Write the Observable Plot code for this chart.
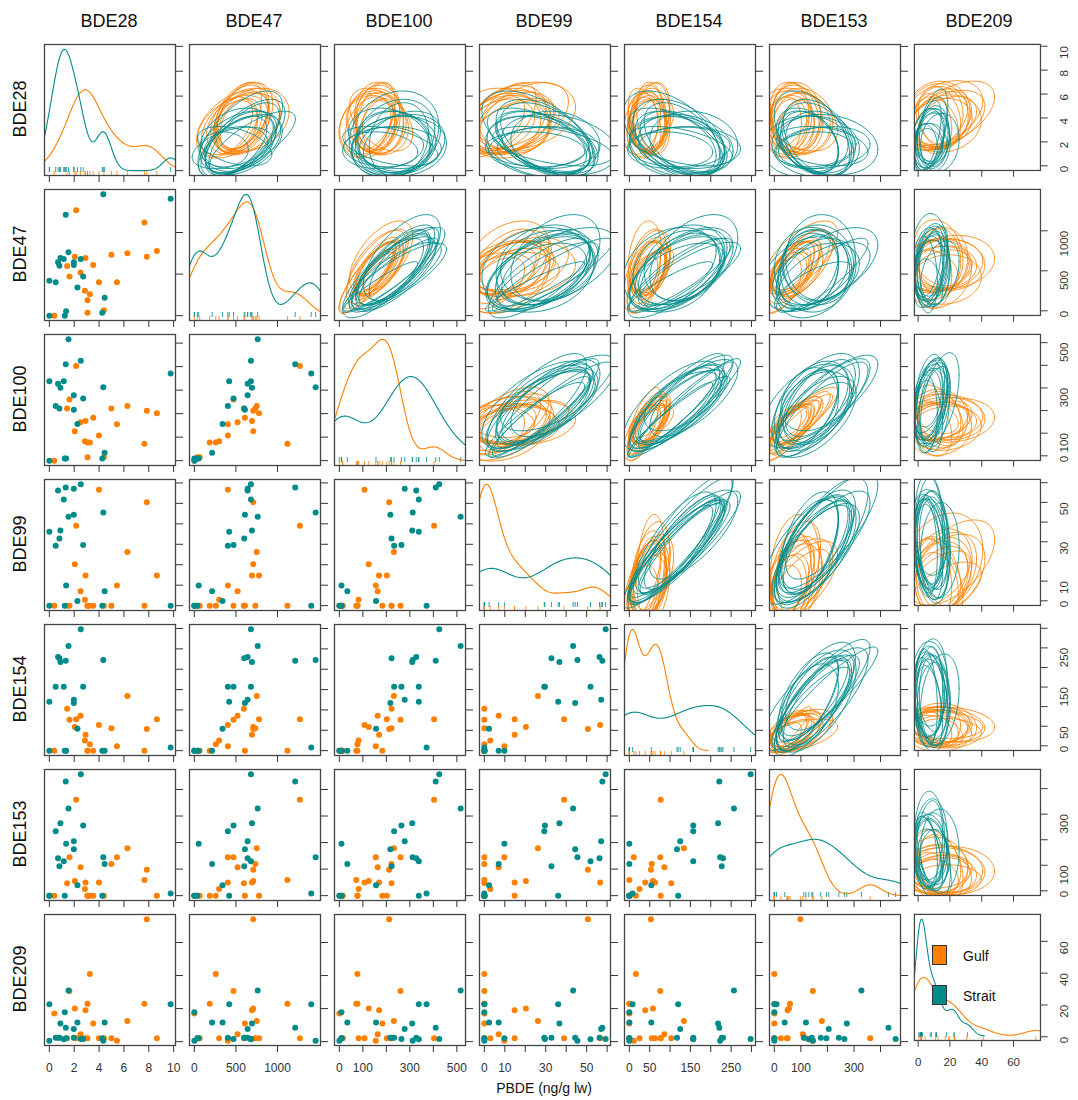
<!DOCTYPE html>
<html><head><meta charset="utf-8">
<script src="https://cdn.jsdelivr.net/npm/d3@7"></script>
<script src="https://cdn.jsdelivr.net/npm/@observablehq/plot@0.6"></script>
<style>
body{margin:0;background:#fff;font-family:"Liberation Sans",Arial,sans-serif;}
#wrap{position:relative;width:1078px;height:1100px;overflow:hidden;}
.cell{position:absolute;}
.lab{position:absolute;font-size:18px;color:#111;white-space:nowrap;line-height:18px;}
.leg{position:absolute;font-size:14px;color:#111;white-space:nowrap;line-height:14px;}
.sw{position:absolute;width:13px;height:18px;border:1px solid #333;}
</style></head><body><div id="wrap"></div>
<script>
const variables = ["BDE28","BDE47","BDE100","BDE99","BDE154","BDE153","BDE209"];
const groupNames = ["Gulf","Strait"];
const groupColors = ["#FF7F00","#008B8B"];

const gulfBDE28  = [0.40,1.43,1.62,2.05,2.16,2.51,2.86,2.91,3.07,3.07,3.26,3.53,3.99,4.39,4.99,5.44,6.28,7.65,7.84,8.65];
const gulfBDE47  = [0,596,471,709,1269,520,298,693,185,36,258,608,403,64,733,403,750,1120,709,778];
const gulfBDE100 = [0,222,260,125,403,163,82,169,77,14,77,183,107,14,222,155,232,72,212,202];
const gulfBDE99  = [0,0,0,20.3,39.0,7.0,2.9,14.8,0,0,0,0,56.6,0,0,9.8,26.2,0,50.6,14.8];
const gulfBDE154 = [0,103,76,58,77,86,25,39,0,0,16,0,63,0,55,11,134,0,53,77];
const gulfBDE153 = [0,47,145,55,361,107,25,50,0,0,0,0,50,0,119,145,179,59,98,0];
const gulfBDE209 = [17,2,30.6,20,2,4.4,2,19,23,2,41,11,2,2,2,0.6,12.5,23,74,2];

const straitBDE28  = [0,0,0.51,0.70,0.81,0.89,1.16,1.24,1.32,1.35,1.54,1.97,1.97,2.26,2.53,2.72,4.26,4.34,4.45,9.76];
const straitBDE47  = [419,0,403,641,600,693,681,0,1213,52,762,641,608,339,681,471,36,1459,214,1406];
const straitBDE100 = [338,0,233,327,222,310,338,9,410,9,516,278,217,156,425,264,9,312,34,371];
const straitBDE99  = [36.1,0,29.3,56.3,32.8,36.7,51.9,0,57.7,9.8,43.4,57.1,44.4,2.3,59.3,29.6,0,45.5,7.0,0];
const straitBDE154 = [120,0,157,230,227,218,157,0,221,0,257,125,117,54,298,157,0,223,0,8];
const straitBDE153 = [0,0,243,141,111,273,130,0,430,196,328,205,175,39,457,264,0,145,119,8];
const straitBDE209 = [22.6,0.6,2.4,2.4,2.4,11,1.5,17.8,8.4,2,31,7.6,2.4,11.6,1.6,1.6,2,0.6,11.6,22.6];

const tickValues = {BDE28:[0,2,4,6,8,10], BDE47:[0,500,1000], BDE100:[0,100,200,300,400,500], BDE99:[0,10,20,30,40,50,60], BDE154:[0,50,100,150,200,250,300], BDE153:[0,100,200,300,400], BDE209:[0,20,40,60]};
const tickLabels = {BDE28:[0,2,4,6,8,10], BDE47:[0,500,1000], BDE100:[0,100,300,500], BDE99:[0,10,30,50], BDE154:[0,50,150,250], BDE153:[0,100,300], BDE209:[0,20,40,60]};

const axisTitle = "PBDE (ng/g lw)";

// ---- assemble ----
const groupData = [
  {BDE28:gulfBDE28,BDE47:gulfBDE47,BDE100:gulfBDE100,BDE99:gulfBDE99,BDE154:gulfBDE154,BDE153:gulfBDE153,BDE209:gulfBDE209},
  {BDE28:straitBDE28,BDE47:straitBDE47,BDE100:straitBDE100,BDE99:straitBDE99,BDE154:straitBDE154,BDE153:straitBDE153,BDE209:straitBDE209}
];
const samples = [];
groupData.forEach((g, gi) => {
  g.BDE28.forEach((_, k) => {
    const s = {group: groupNames[gi], gi};
    variables.forEach(v => s[v] = g[v][k]);
    samples.push(s);
  });
});
const ranges = {}, domains = {};
variables.forEach(v => {
  const ext = d3.extent(samples, s => s[v]);
  ranges[v] = ext;
  const r = ext[1] - ext[0];
  domains[v] = [ext[0] - 0.04 * r, ext[1] + 0.04 * r];
});

// deterministic resampling weights (systematic delete/duplicate scheme)
const pattern = [0,1,1,2,0,1,3,1,0,2,1,1,0];
const NRES = 14;
function weights(n, r) {
  const m = (r % 12) + 1;
  return d3.range(n).map(i => pattern[(i * m + r * 5) % pattern.length]);
}
function ellipseRows(xv, yv) {
  const rows = [];
  const rad = 1.12;
  groupData.forEach((g, gi) => {
    const xs = g[xv], ys = g[yv], n = xs.length;
    for (let r = 0; r < NRES; r++) {
      const w = weights(n, r);
      const W = d3.sum(w);
      const mx = d3.sum(xs.map((x, i) => x * w[i])) / W;
      const my = d3.sum(ys.map((y, i) => y * w[i])) / W;
      let sxx = 0, syy = 0, sxy = 0;
      for (let i = 0; i < n; i++) {
        sxx += w[i] * (xs[i] - mx) ** 2;
        syy += w[i] * (ys[i] - my) ** 2;
        sxy += w[i] * (xs[i] - mx) * (ys[i] - my);
      }
      sxx /= (W - 1); syy /= (W - 1); sxy /= (W - 1);
      const l11 = Math.sqrt(sxx);
      const l21 = sxy / l11;
      const l22 = Math.sqrt(Math.max(syy - l21 * l21, 1e-9));
      for (let t = 0; t <= 100; t++) {
        const a = t / 100 * 2 * Math.PI;
        const c = Math.cos(a) * rad, s = Math.sin(a) * rad;
        rows.push({x: mx + l11 * c, y: my + l21 * c + l22 * s, k: gi + "-" + r, gi});
      }
    }
  });
  return rows;
}
function bwNrd0(x) {
  const sd = d3.deviation(x);
  const sorted = x.slice().sort(d3.ascending);
  const iqr = d3.quantileSorted(sorted, 0.75) - d3.quantileSorted(sorted, 0.25);
  let lo = Math.min(sd, iqr / 1.34);
  if (!(lo > 0)) lo = sd || Math.abs(x[0]) || 1;
  return 0.9 * lo * Math.pow(x.length, -0.2);
}
function densityRows(v) {
  const curves = groupData.map((g, gi) => {
    const xs = g[v], bw = bwNrd0(xs);
    const lo = d3.min(xs) - 3 * bw, hi = d3.max(xs) + 3 * bw;
    return d3.range(257).map(t => {
      const x = lo + (hi - lo) * t / 256;
      const d = d3.mean(xs, xi => Math.exp(-0.5 * ((x - xi) / bw) ** 2)) / (bw * Math.sqrt(2 * Math.PI));
      return {x, d, gi};
    });
  });
  const dmax = d3.max(curves.flat(), c => c.d);
  const [mn, mx] = ranges[v];
  return curves.flat().map(c => ({x: c.x, y: mn + c.d / dmax * (mx - mn), gi: c.gi}));
}

const P0X = 43.5, P0Y = 43.5, STEP = 145, SIZE = 131;
const wrap = document.getElementById("wrap");
const N = variables.length;
const fmt = v => (d => tickLabels[v].includes(d) ? String(d) : "");
const blank = () => "";

for (let i = 0; i < N; i++) {
  for (let j = 0; j < N; j++) {
    const xv = variables[j], yv = variables[i];
    const lastRow = i === N - 1, lastCol = j === N - 1;
    const ml = 2, mt = 2, mr = lastCol ? 40 : 12, mb = lastRow ? 40 : 12;
    let marks = [];
    if (i > j) {
      marks = [
        Plot.dot(samples.filter(s => s.gi === 0), {x: xv, y: yv, r: 3, fill: groupColors[0], stroke: "none"}),
        Plot.dot(samples.filter(s => s.gi === 1), {x: xv, y: yv, r: 3, fill: groupColors[1], stroke: "none"})
      ];
    } else if (i < j) {
      const rows = ellipseRows(xv, yv);
      marks = [0, 1].map(gi => Plot.line(rows.filter(r => r.gi === gi), {x: "x", y: "y", z: "k", stroke: groupColors[gi], strokeWidth: 1, strokeOpacity: 0.85, clip: true}));
    } else {
      const rows = densityRows(xv);
      marks = [
        Plot.ruleX(groupData[1][xv], {x: d => d, stroke: groupColors[1], strokeOpacity: 0.8, strokeWidth: 1, insetTop: SIZE - 8, insetBottom: 3}),
        Plot.ruleX(groupData[0][xv], {x: d => d, stroke: groupColors[0], strokeOpacity: 0.8, strokeWidth: 1, insetTop: SIZE - 4, insetBottom: 0}),
        Plot.line(rows.filter(r => r.gi === 0), {x: "x", y: "y", stroke: groupColors[0], strokeWidth: 1.1, clip: true}),
        Plot.line(rows.filter(r => r.gi === 1), {x: "x", y: "y", stroke: groupColors[1], strokeWidth: 1.1, clip: true})
      ];
    }
    marks.push(Plot.frame({stroke: "#444", strokeWidth: 1.3}));
    if (lastCol) {
      marks.push(Plot.text(tickLabels[yv], {y: d => d, text: d => String(d), frameAnchor: "right", dx: 25, rotate: -90, fontSize: 12, fill: "#333"}));
    }
    const chart = Plot.plot({
      width: SIZE + ml + mr, height: SIZE + mt + mb,
      marginLeft: ml, marginRight: mr, marginTop: mt, marginBottom: mb,
      style: {background: "transparent", overflow: "visible", fontSize: "12px", fontFamily: "Liberation Sans, Arial, sans-serif", color: "#333"},
      x: {domain: domains[xv], ticks: tickValues[xv], tickSize: 7, tickPadding: 11, tickFormat: lastRow ? fmt(xv) : blank, label: null, axis: "bottom"},
      y: {domain: domains[yv], ticks: tickValues[yv], tickSize: 7, tickFormat: blank, label: null, axis: "right"},
      marks
    });
    const div = document.createElement("div");
    div.className = "cell";
    div.style.left = (P0X + STEP * j - ml) + "px";
    div.style.top = (P0Y + STEP * i - mt) + "px";
    div.appendChild(chart);
    wrap.appendChild(div);
  }
}
// titles
variables.forEach((v, j) => {
  const d = document.createElement("div");
  d.className = "lab"; d.textContent = v;
  d.style.left = (P0X + STEP * j + SIZE / 2) + "px";
  d.style.top = "12px";
  d.style.transform = "translateX(-50%)";
  wrap.appendChild(d);
  const r = document.createElement("div");
  r.className = "lab"; r.textContent = v;
  r.style.left = "20px";
  r.style.top = (P0Y + STEP * j + SIZE / 2) + "px";
  r.style.transform = "translate(-50%,-50%) rotate(-90deg)";
  wrap.appendChild(r);
});
const xt = document.createElement("div");
xt.className = "leg"; xt.textContent = axisTitle;
xt.style.left = "544px"; xt.style.top = "1081px"; xt.style.transform = "translateX(-50%)";
wrap.appendChild(xt);
// legend
groupNames.forEach((g, gi) => {
  const sw = document.createElement("div");
  sw.className = "sw"; sw.style.background = groupColors[gi];
  sw.style.left = "932px"; sw.style.top = (945 + gi * 40) + "px";
  wrap.appendChild(sw);
  const t = document.createElement("div");
  t.className = "leg"; t.textContent = g;
  t.style.left = "963px"; t.style.top = (949 + gi * 40) + "px";
  wrap.appendChild(t);
});
</script></body></html>
